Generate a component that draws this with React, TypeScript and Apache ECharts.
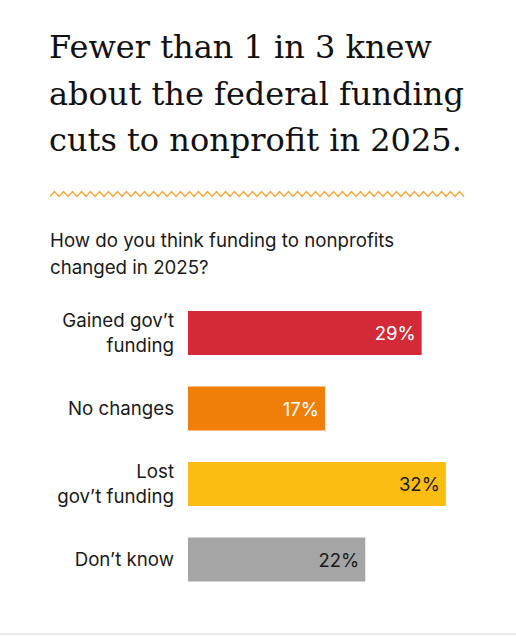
import { useEffect, useRef } from 'react';
import * as echarts from 'echarts';

const categories = ["Gained gov’t\nfunding", 'No changes', "Lost\ngov’t funding", 'Don’t know'];
const values = [29, 17, 32, 22];
const barColors = ['#d42a37', '#f07f09', '#fcbd13', '#a5a5a5'];
const labelColors = ['#ffffff', '#ffffff', '#1a1a1a', '#1a1a1a'];

const TITLE = ['Fewer than 1 in 3 knew', 'about the federal funding', 'cuts to nonprofit in 2025.'];
const SUBTITLE = ['How do you think funding to nonprofits', 'changed in 2025?'];

const SANS = 'Inter, "Noto Sans", sans-serif';
const SERIF = '"DejaVu Serif", serif';

// zigzag rule under the title
function zigzag(x0: number, x1: number, y: number, step: number, amp: number) {
  const pts: number[][] = [];
  let up = false;
  for (let x = x0; x <= x1; x += step / 2) {
    pts.push([x, up ? y - amp / 2 : y + amp / 2]);
    up = !up;
  }
  return pts;
}

export default function App() {
  const ref = useRef<HTMLDivElement>(null);

  useEffect(() => {
    document.body.style.margin = '0';
    if (!ref.current) return;
    const chart = echarts.init(ref.current, null, { renderer: 'svg' });

    chart.setOption({
      animation: false,
      backgroundColor: '#ffffff',
      graphic: [
        ...TITLE.map((t, i) => ({
          type: 'text',
          left: 49,
          top: 31 + i * 46.5,
          style: { text: t, font: `32px ${SERIF}`, fill: '#111111' },
        })),
        {
          type: 'polyline',
          shape: { points: zigzag(50, 465, 194, 9, 5) },
          style: { stroke: '#f4a93a', lineWidth: 1.4, fill: null },
        },
        ...SUBTITLE.map((t, i) => ({
          type: 'text',
          left: 50,
          top: 231 + i * 26.5,
          style: { text: t, font: `18.7px ${SANS}`, fill: '#1a1a1a' },
        })),
        {
          type: 'line',
          shape: { x1: 0, y1: 634, x2: 516, y2: 634 },
          style: { stroke: '#e4e4e4', lineWidth: 1.5 },
        },
      ],
      grid: { left: 188, top: 295.25, width: 282, height: 302 },
      xAxis: { type: 'value', min: 0, max: 35, show: false },
      yAxis: {
        type: 'category',
        inverse: true,
        data: categories,
        axisLine: { show: false },
        axisTick: { show: false },
        axisLabel: {
          margin: 14,
          fontFamily: SANS,
          fontSize: 18.7,
          lineHeight: 24.5,
          color: '#1a1a1a',
          align: 'right',
        },
      },
      series: [
        {
          type: 'bar',
          barWidth: 44,
          data: values.map((v, i) => ({
            value: v,
            itemStyle: { color: barColors[i] },
            label: { color: labelColors[i] },
          })),
          label: {
            show: true,
            position: 'insideRight',
            distance: 6,
            formatter: '{c}%',
            fontFamily: SANS,
            fontSize: 18.5,
          },
        },
      ],
    });

    return () => chart.dispose();
  }, []);

  return <div ref={ref} style={{ width: 516, height: 637 }} />;
}
